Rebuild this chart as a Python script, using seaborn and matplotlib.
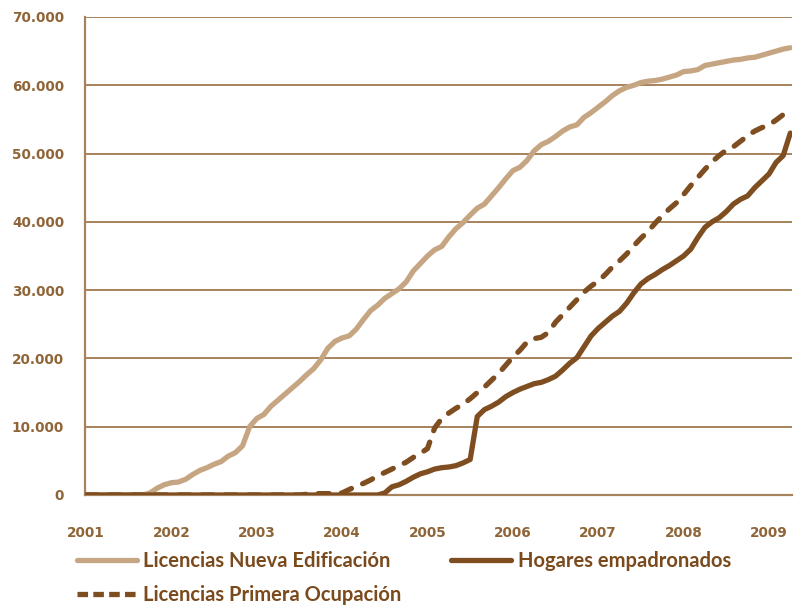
import numpy as np
import pandas as pd
import matplotlib
matplotlib.use("Agg")
import matplotlib.pyplot as plt
import seaborn as sns
from matplotlib.ticker import FuncFormatter, FixedLocator
from matplotlib.lines import Line2D

# Monthly series, January 2001 to April 2009
fechas = pd.date_range("2001-01-01", "2009-04-01", freq="MS")

nueva_edificacion = [
    0, 0, 0, 0, 0, 0, 0, 0, 0, 300, 1000, 1500,
    1800, 1900, 2300, 3000, 3600, 4000, 4500, 4900, 5700, 6200, 7200, 10000,
    11200, 11800, 13000, 13900, 14800, 15700, 16600, 17600, 18500, 19800, 21500, 22500,
    23000, 23300, 24300, 25700, 27000, 27800, 28800, 29500, 30200, 31200, 32800, 33900,
    35000, 35900, 36400, 37800, 39000, 39900, 41000, 42000, 42600, 43800, 45000, 46300,
    47500, 48000, 49000, 50400, 51300, 51800, 52500, 53300, 53900, 54200, 55300, 56000,
    56800, 57600, 58500, 59200, 59700, 60000, 60400, 60600, 60700, 60900, 61200, 61500,
    62000, 62100, 62300, 62900, 63100, 63300, 63500, 63700, 63800, 64000, 64100, 64400,
    64700, 65000, 65300, 65500,
]

primera_ocupacion = [
    0, 0, 0, 0, 0, 0, 0, 0, 0, 0, 0, 0,
    0, 0, 0, 0, 0, 0, 0, 0, 0, 0, 0, 0,
    0, 0, 0, 0, 0, 0, 0, 100, 200, 200, 200, 200,
    300, 800, 1300, 1700, 2200, 2800, 3300, 3800, 4300, 4800, 5500, 6100,
    6800, 9800, 11200, 12000, 12700, 13300, 14100, 15000, 15800, 16800, 17800, 19000,
    20200, 21200, 22400, 22900, 23100, 23800, 25300, 26400, 27500, 28600, 29700, 30600,
    31300, 32300, 33400, 34300, 35300, 36500, 37600, 38600, 39800, 40900, 41900, 42800,
    44000, 45300, 46500, 47700, 48800, 49700, 50500, 51000, 51800, 52600, 53300, 53800,
    54200, 54900, 55700, 56500,
]

hogares = [
    0, 0, 0, 0, 0, 0, 0, 0, 0, 0, 0, 0,
    0, 0, 0, 0, 0, 0, 0, 0, 0, 0, 0, 0,
    0, 0, 0, 0, 0, 0, 0, 0, 0, 0, 0, 0,
    0, 0, 0, 0, 0, 0, 300, 1200, 1500, 2000, 2600, 3100,
    3400, 3800, 4000, 4100, 4300, 4700, 5200, 11500, 12500, 13000, 13600, 14400,
    15000, 15500, 15900, 16300, 16500, 16900, 17400, 18300, 19300, 20100, 21700, 23300,
    24400, 25300, 26200, 26900, 28100, 29600, 30900, 31700, 32300, 33000, 33600, 34300,
    35000, 36000, 37700, 39200, 40000, 40600, 41500, 42600, 43300, 43800, 45000, 46000,
    47000, 48700, 49700, 53000,
]

anios = [2001, 2002, 2003, 2004, 2005, 2006, 2007, 2008, 2009]
y_ticks = [0, 10000, 20000, 30000, 40000, 50000, 60000, 70000]

etiquetas = {
    "nueva": "Licencias Nueva Edificación",
    "primera": "Licencias Primera Ocupación",
    "hogares": "Hogares empadronados",
}

c_claro = "#C6A682"
c_oscuro = "#7E4E21"
c_rejilla = "#A7825C"
c_ticks = "#8F6538"
c_leyenda = "#7A4A1C"

# decimal year for each month
t = fechas.year + (fechas.month - 1) / 12.0
df = pd.DataFrame({
    "t": t,
    "nueva": nueva_edificacion,
    "primera": primera_ocupacion,
    "hogares": hogares,
})

sns.set_style("white")
plt.rcParams["font.family"] = ["DejaVu Sans"]

fig = plt.figure(figsize=(7.97, 6.07), dpi=100)
ax = fig.add_axes([85 / 797, 1 - 495 / 607, (792 - 85) / 797, (495 - 17) / 607])

lw = 3.8
sns.lineplot(data=df, x="t", y="nueva", ax=ax, color=c_claro, lw=lw,
             solid_capstyle="round", solid_joinstyle="round", zorder=3)
sns.lineplot(data=df, x="t", y="hogares", ax=ax, color=c_oscuro, lw=lw,
             solid_capstyle="round", solid_joinstyle="round", zorder=4)
l_prim = sns.lineplot(data=df, x="t", y="primera", ax=ax, color=c_oscuro, lw=lw,
                      zorder=4).lines[-1]
l_prim.set_dashes([2.1, 2.3])
l_prim.set_dash_capstyle("round")

ax.set_xlim(2001 - 0.012, 2009.27)
ax.set_ylim(0, 70000)

ax.xaxis.set_major_locator(FixedLocator(anios))
ax.yaxis.set_major_locator(FixedLocator(y_ticks))
ax.yaxis.set_major_formatter(FuncFormatter(lambda v, p: f"{v:,.0f}".replace(",", ".")))

ax.grid(axis="y", color=c_rejilla, lw=1.4, zorder=1)
ax.grid(axis="x", visible=False)
for s in ["top", "right"]:
    ax.spines[s].set_visible(False)
for s in ["left", "bottom"]:
    ax.spines[s].set_color(c_rejilla)
    ax.spines[s].set_linewidth(1.6)
    ax.spines[s].set_zorder(2)

ax.tick_params(axis="y", direction="out", length=5, width=1.2, color=c_rejilla,
               pad=10, labelsize=9.8, labelcolor=c_ticks)
ax.tick_params(axis="x", direction="out", length=6, width=1.2, color=c_rejilla,
               pad=16, labelsize=9.8, labelcolor=c_ticks)
for lab in ax.get_xticklabels() + ax.get_yticklabels():
    lab.set_fontweight("bold")

ax.set_xlabel("")
ax.set_ylabel("")

handles = [
    Line2D([], [], color=c_claro, lw=lw),
    Line2D([], [], color=c_oscuro, lw=lw, dashes=[2.0, 1.0], dash_capstyle="butt"),
    Line2D([], [], color=c_oscuro, lw=lw),
]
labels = [etiquetas["nueva"], etiquetas["primera"], etiquetas["hogares"]]
leg = fig.legend(handles, labels, ncol=2, loc="upper left",
                 bbox_to_anchor=(77 / 797, 1 - 551 / 607),
                 frameon=False, borderpad=0, borderaxespad=0,
                 handlelength=3.0, handletextpad=0.3, columnspacing=2.45,
                 labelspacing=0.68,
                 prop={"family": "Lato", "weight": "bold", "size": 14.5})
for txt in leg.get_texts():
    txt.set_color(c_leyenda)

fig.savefig("out.png", dpi=100, facecolor="white")
